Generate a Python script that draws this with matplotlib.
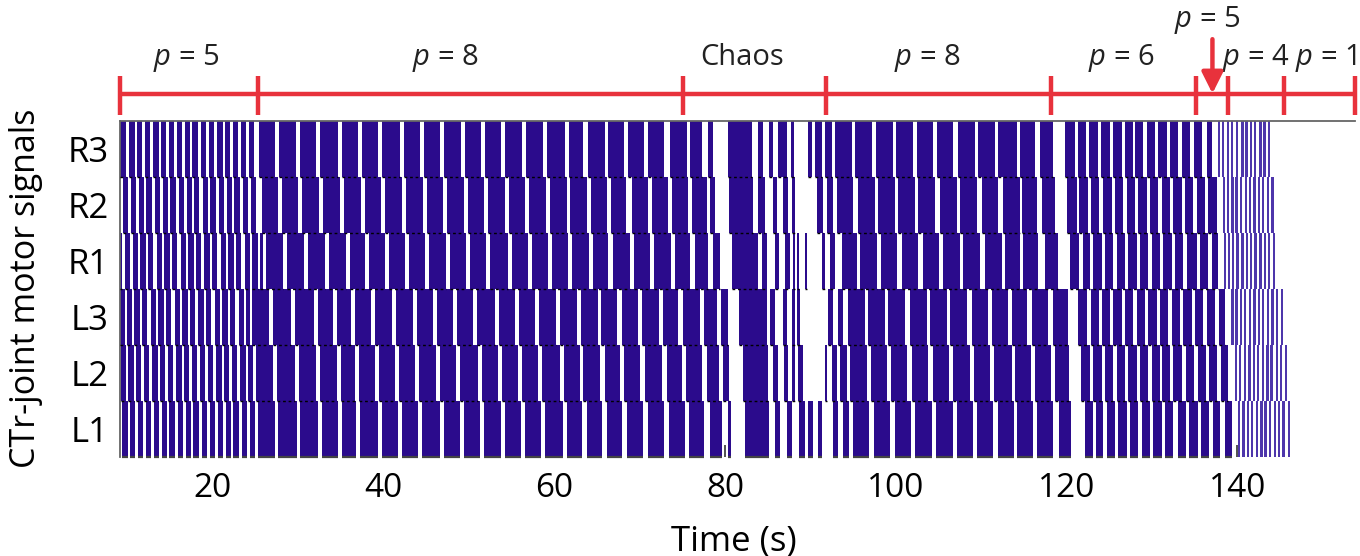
import matplotlib
matplotlib.use("Agg")
import matplotlib.pyplot as plt
from matplotlib.collections import LineCollection

plt.rcParams['font.family'] = ['Open Sans', 'DejaVu Sans']
plt.rcParams['mathtext.fontset'] = 'custom'
plt.rcParams['mathtext.it'] = 'Open Sans:italic'
plt.rcParams['mathtext.rm'] = 'Open Sans'

BLUE = '#2b0b8c'
RED = '#e8323c'

rows = ["R3", "R2", "R1", "L3", "L2", "L1"]

# stance intervals (start, end) in seconds
r3_bars = [
    (9.10, 9.86), (10.2, 10.82), (11.1, 11.72), (12.0, 12.62), (13.0, 13.62), (13.9, 14.52),
    (14.8, 15.42), (15.8, 16.42), (16.7, 17.32), (17.6, 18.22), (18.6, 19.22), (19.5, 20.12),
    (20.5, 21.12), (21.4, 22.02), (22.3, 22.92), (23.3, 23.92), (24.2, 24.82),
    (25.39, 27.26), (27.73, 29.73), (30.20, 32.07), (32.54, 34.65), (35.12, 36.99), (37.46, 39.33),
    (39.80, 41.91), (42.38, 44.26), (44.73, 46.60), (47.07, 49.07), (49.53, 51.41), (51.88, 53.75),
    (54.22, 56.21), (56.68, 58.67), (59.14, 61.25), (61.72, 63.36), (63.94, 65.94), (66.29, 68.17),
    (68.64, 70.51), (70.98, 72.85), (73.55, 75.55), (75.90, 77.30), (78.01, 78.59),
    (80.35, 83.16), (83.87, 84.45), (85.15, 85.62), (86.21, 87.27), (87.73, 88.09), (89.66, 90.20),
    (90.55, 91.37), (91.72, 92.54),
    (92.89, 94.88), (95.24, 97.23), (97.70, 99.69), (100.04, 102.03), (102.50, 104.38), (104.85, 106.72),
    (107.30, 109.30), (109.64, 111.64), (111.99, 114.22), (114.57, 116.33), (116.92, 118.44),
    (119.85, 121.02), (121.37, 122.31), (122.66, 123.71), (124.06, 125.12), (125.47, 126.52),
    (126.81, 127.81), (128.05, 128.98), (129.44, 130.38), (130.73, 131.79), (132.09, 133.03),
    (133.50, 134.49), (134.96, 135.90), (136.49, 137.07),
]
r2_bars = [
    (9.47, 10.09), (10.4, 11.02), (11.3, 11.92), (12.2, 12.82), (13.2, 13.82), (14.1, 14.72),
    (15.0, 15.62), (16.0, 16.62), (16.9, 17.52), (17.8, 18.42), (18.8, 19.42), (19.7, 20.32),
    (20.7, 21.32), (21.6, 22.22), (22.5, 23.12), (23.5, 24.12), (24.4, 25.02),
    (25.74, 27.62), (28.08, 29.96), (30.43, 32.42), (32.89, 34.88), (35.35, 37.34), (37.81, 39.69),
    (40.16, 42.15), (42.62, 44.61), (45.08, 46.95), (47.42, 49.41), (49.88, 51.76), (52.23, 54.22),
    (54.69, 56.56), (57.03, 59.02), (59.49, 61.48), (61.84, 63.83), (64.30, 66.17), (66.64, 68.40),
    (69.10, 70.98), (71.45, 73.32), (73.79, 75.66), (76.13, 77.89), (78.24, 78.83),
    (80.47, 83.28), (83.87, 84.69), (85.62, 86.09), (86.80, 87.38), (87.85, 88.20), (90.78, 91.48),
    (91.95, 92.66),
    (93.12, 95.00), (95.59, 97.58), (97.93, 99.92), (100.27, 102.27), (102.62, 104.61), (105.20, 107.19),
    (107.54, 109.53), (110.12, 111.99), (112.58, 114.57), (114.81, 116.57), (117.15, 118.67),
    (120.08, 121.25), (121.48, 122.54), (122.89, 123.83), (124.30, 125.35), (125.70, 126.64),
    (127.11, 128.05), (128.40, 129.46), (129.81, 130.74), (131.21, 132.15), (132.50, 133.56),
    (133.91, 134.85), (135.31, 136.25), (136.60, 137.65),
]
r1_bars = [
    (9.10, 9.35), (9.7, 10.32), (10.6, 11.22), (11.5, 12.12), (12.4, 13.02), (13.4, 14.02),
    (14.3, 14.92), (15.2, 15.82), (16.2, 16.82), (17.1, 17.72), (18.0, 18.62), (19.0, 19.62),
    (19.9, 20.52), (20.9, 21.52), (21.8, 22.42), (22.7, 23.32), (23.7, 24.32), (24.6, 25.22),
    (25.5, 25.9),
    (26.21, 28.20), (28.67, 30.66), (31.13, 33.13), (33.59, 35.59), (36.05, 37.81), (38.28, 40.16),
    (40.62, 42.50), (42.97, 44.84), (45.31, 47.30), (47.77, 49.65), (50.12, 51.99), (52.46, 54.57),
    (55.04, 56.91), (57.38, 59.26), (59.73, 61.61), (62.07, 64.06), (64.53, 66.29), (66.87, 68.87),
    (69.34, 71.21), (71.68, 73.67), (74.14, 75.90), (76.48, 78.01), (78.59, 79.41),
    (80.82, 83.87), (84.33, 84.92), (85.86, 86.33), (87.03, 87.62), (87.97, 88.20), (88.44, 88.67),
    (89.38, 89.62), (91.37, 91.72), (92.31, 92.89),
    (93.71, 95.47), (95.82, 97.81), (98.28, 100.16), (100.74, 102.62), (103.21, 105.08), (105.55, 107.54),
    (107.89, 109.88), (110.47, 112.46), (112.81, 114.57), (114.92, 116.68), (117.50, 119.02),
    (120.43, 121.48), (121.95, 122.77), (123.13, 124.18), (124.53, 125.47), (125.94, 126.87),
    (127.22, 128.28), (128.63, 129.57), (130.04, 130.98), (131.27, 132.33), (132.74, 133.67),
    (134.14, 135.31), (135.66, 136.60), (137.07, 137.77),
]
l3_bars = [
    (9.10, 9.65), (9.9, 10.52), (10.8, 11.42), (11.7, 12.32), (12.7, 13.32), (13.6, 14.22),
    (14.5, 15.12), (15.5, 16.12), (16.4, 17.02), (17.3, 17.92), (18.3, 18.92), (19.2, 19.82),
    (20.2, 20.82), (21.1, 21.72), (22.0, 22.62), (23.0, 23.62), (23.9, 24.35),
    (24.57, 26.56), (27.03, 29.14), (29.61, 31.83), (32.30, 34.06), (34.53, 36.17), (36.64, 38.51),
    (38.98, 40.97), (41.44, 43.44), (43.90, 45.78), (46.25, 48.12), (48.59, 50.47), (50.94, 53.05),
    (53.52, 55.39), (55.86, 57.74), (58.20, 60.20), (60.66, 62.66), (63.13, 65.12), (65.47, 67.34),
    (67.93, 69.80), (70.27, 72.27), (72.73, 74.49), (75.08, 77.07), (77.54, 79.06), (79.53, 80.35),
    (81.64, 84.92), (85.27, 85.86), (86.80, 87.27), (87.85, 88.20), (88.44, 88.79), (92.07, 92.66),
    (93.24, 93.83),
    (94.41, 96.41), (96.76, 98.75), (99.10, 101.09), (101.68, 103.61), (104.02, 106.02), (106.37, 108.36),
    (108.95, 110.82), (111.29, 113.16), (113.63, 115.39), (115.98, 117.85), (118.44, 120.20),
    (121.37, 122.42), (122.89, 123.83), (124.18, 125.12), (125.47, 126.52), (126.87, 127.81),
    (128.28, 129.22), (129.57, 130.63), (130.98, 131.92), (132.39, 133.32), (133.67, 134.73),
    (135.08, 136.02), (136.49, 137.42), (137.89, 138.59),
]
l2_bars = [
    (9.17, 9.79), (10.1, 10.72), (11.0, 11.62), (11.9, 12.52), (12.9, 13.52), (13.8, 14.42),
    (14.7, 15.32), (15.7, 16.32), (16.6, 17.22), (17.5, 18.12), (18.5, 19.12), (19.4, 20.02),
    (20.4, 21.02), (21.3, 21.92), (22.2, 22.82), (23.2, 23.82), (24.1, 24.72),
    (25.04, 27.03), (27.50, 29.61), (30.08, 32.07), (32.54, 34.53), (35.00, 36.64), (37.11, 38.98),
    (39.45, 41.32), (41.79, 43.67), (44.14, 46.13), (46.60, 48.48), (48.95, 51.05), (51.52, 53.40),
    (53.87, 55.74), (56.21, 58.09), (58.56, 60.66), (61.13, 63.01), (63.36, 65.35), (65.94, 67.70),
    (68.17, 70.04), (70.63, 72.62), (73.20, 74.96), (75.43, 77.30), (77.89, 79.29), (79.77, 80.47),
    (82.11, 85.04), (85.62, 86.21), (86.90, 87.40), (87.85, 88.20), (88.55, 89.14), (91.72, 91.95),
    (92.54, 93.12), (93.48, 94.30),
    (94.65, 96.64), (97.11, 98.98), (99.45, 101.33), (101.92, 103.79), (104.37, 106.25), (106.72, 108.71),
    (109.18, 111.06), (111.52, 113.63), (113.98, 115.85), (116.33, 118.20), (118.67, 120.31),
    (121.72, 122.77), (123.13, 124.18), (124.53, 125.47), (125.94, 126.87), (127.22, 128.28),
    (128.63, 129.57), (130.04, 130.98), (131.21, 132.15), (132.50, 133.56), (134.03, 134.96),
    (135.43, 136.37), (136.72, 137.65), (138.12, 138.94),
]
l1_bars = [
    (9.37, 9.99), (10.3, 10.92), (11.2, 11.82), (12.1, 12.72), (13.1, 13.72), (14.0, 14.62),
    (14.9, 15.52), (15.9, 16.52), (16.8, 17.42), (17.7, 18.32), (18.7, 19.32), (19.6, 20.22),
    (20.6, 21.22), (21.5, 22.12), (22.4, 23.02), (23.4, 24.02), (24.3, 24.92),
    (25.27, 27.26), (27.62, 29.84), (30.20, 32.30), (32.77, 34.65), (35.12, 36.76), (37.23, 39.33),
    (39.80, 41.68), (42.15, 44.02), (44.49, 46.60), (47.07, 48.95), (49.41, 51.29), (51.76, 53.75),
    (54.22, 56.09), (56.56, 58.44), (58.91, 61.01), (61.48, 63.24), (63.83, 65.59), (66.17, 67.93),
    (68.52, 70.39), (70.98, 72.85), (73.44, 75.31), (75.78, 77.54), (78.24, 79.65), (80.35, 80.70),
    (82.34, 85.15), (85.86, 86.45), (87.27, 87.85), (88.67, 89.38), (89.72, 90.31), (90.90, 91.37),
    (92.66, 93.24), (93.83, 94.53),
    (95.00, 96.87), (97.46, 99.34), (99.92, 101.80), (102.27, 104.26), (104.73, 106.72), (107.19, 109.06),
    (109.53, 111.41), (111.99, 113.87), (114.22, 116.09), (116.56, 118.44), (119.14, 120.55),
    (122.19, 123.13), (123.48, 124.30), (124.77, 125.70), (126.05, 127.11), (127.46, 128.40),
    (128.87, 129.81), (130.16, 131.21), (131.56, 132.50), (133.09, 134.03), (134.38, 135.43),
    (135.78, 136.72), (137.19, 138.01), (138.59, 139.41),
]

# very short bursts at the end (p = 5 / p = 4), onset times in s
r3_thin = [137.77, 138.24, 138.82, 139.29, 139.88, 140.47, 140.94, 141.52, 141.99, 142.58, 143.05, 143.63]
r2_thin = [138.3, 138.8, 139.3, 139.8, 140.3, 140.9, 141.4, 141.9, 142.4, 142.9, 143.5, 144.0]
r1_thin = [138.4, 138.9, 139.4, 139.9, 140.5, 141.0, 141.5, 142.0, 142.6, 143.1, 143.6, 144.2]
l3_thin = [139.3, 139.8, 140.3, 140.8, 141.4, 141.9, 142.4, 142.9, 143.5, 144.0, 144.5, 145.1]
l2_thin = [139.7, 140.2, 140.8, 141.3, 141.8, 142.3, 142.9, 143.4, 143.9, 144.5, 145.0, 145.6]
l1_thin = [140.1, 140.6, 141.1, 141.6, 142.2, 142.7, 143.2, 143.7, 144.3, 144.8, 145.3, 145.9]
thin_dur = 0.27

# period regimes along the top
regime_edges = [9.1, 25.3, 75.1, 91.8, 118.2, 135.2, 138.9, 145.5, 153.8]
regime_labels = [r"$p$ = 5", r"$p$ = 8", "Chaos", r"$p$ = 8", r"$p$ = 6", r"$p$ = 4", r"$p$ = 1"]
regime_label_x = [16.9, 47.2, 82.0, 103.7, 126.4, 142.2, 150.4]
arrow_label = r"$p$ = 5"
arrow_x = 137.1

xticks = [20, 40, 60, 80, 100, 120, 140]

all_bars = [r3_bars, r2_bars, r1_bars, l3_bars, l2_bars, l1_bars]
all_thin = [r3_thin, r2_thin, r1_thin, l3_thin, l2_thin, l1_thin]

fig = plt.figure(figsize=(13.6, 5.56), dpi=100)
ax = fig.add_axes([0.0882, 0.178, 0.9081, 0.6052])

n = len(rows)
dash_segs = []
base_segs = []
for i, name in enumerate(rows):
    y0 = n - 1 - i
    bars = all_bars[i]
    ax.broken_barh([(s, e - s) for s, e in bars], (y0, 1), facecolors=BLUE, linewidth=0, zorder=2)
    ax.broken_barh([(s, thin_dur) for s in all_thin[i]], (y0, 1), facecolors='#4e36ab',
                   linewidth=0, zorder=2)
    if y0 > 0:
        dash_segs += [[(s, y0), (e, y0)] for s, e in bars]
    else:
        base_segs += [[(s, y0), (e, y0)] for s, e in bars]

ax.add_collection(LineCollection(dash_segs, colors='black', linewidths=1.0,
                                 linestyles=[(0, (2, 2))], zorder=3))
ax.add_collection(LineCollection(base_segs, colors='#444444', linewidths=1.6, zorder=3, clip_on=False))

ax.set_xlim(regime_edges[0], regime_edges[-1])
ax.set_ylim(0, n)
ax.set_yticks([n - 0.5 - i for i in range(n)])
ax.set_yticklabels(rows)
ax.set_xticks(xticks)
ax.tick_params(axis='x', direction='in', length=9, width=1.2, color='#333333', labelsize=24, pad=11)
ax.tick_params(axis='y', length=0, labelsize=25, pad=8)
for sp in ['right', 'bottom']:
    ax.spines[sp].set_visible(False)
for sp in ['top', 'left']:
    ax.spines[sp].set_color('#666666')
    ax.spines[sp].set_linewidth(1.3)

ax.set_xlabel("Time (s)", fontsize=25)
ax.xaxis.set_label_coords(0.497, -0.2)
ax.set_ylabel("CTr-joint motor signals", fontsize=24.5)
ax.yaxis.set_label_coords(-0.062, 0.5)

# red regime bar above the raster
trans = ax.get_xaxis_transform()
ax.plot([regime_edges[0], regime_edges[-1]], [1.079, 1.079], color=RED, lw=3.2,
        transform=trans, clip_on=False, solid_capstyle='butt')
for xe in regime_edges:
    ax.plot([xe, xe], [1.016, 1.132], color=RED, lw=3.2, transform=trans, clip_on=False,
            solid_capstyle='butt')
for lab, xl in zip(regime_labels, regime_label_x):
    ax.text(xl, 1.186, lab, transform=trans, ha='center', va='center', fontsize=21, color='#222222')
ax.text(arrow_x - 0.6, 1.299, arrow_label, transform=trans, ha='center', va='center',
        fontsize=21, color='#222222')
ax.annotate('', xy=(arrow_x, 1.072), xytext=(arrow_x, 1.25), xycoords=trans, textcoords=trans,
            arrowprops=dict(arrowstyle='-|>', color=RED, lw=3.2, mutation_scale=32),
            annotation_clip=False)

fig.savefig("out.png", dpi=100)
